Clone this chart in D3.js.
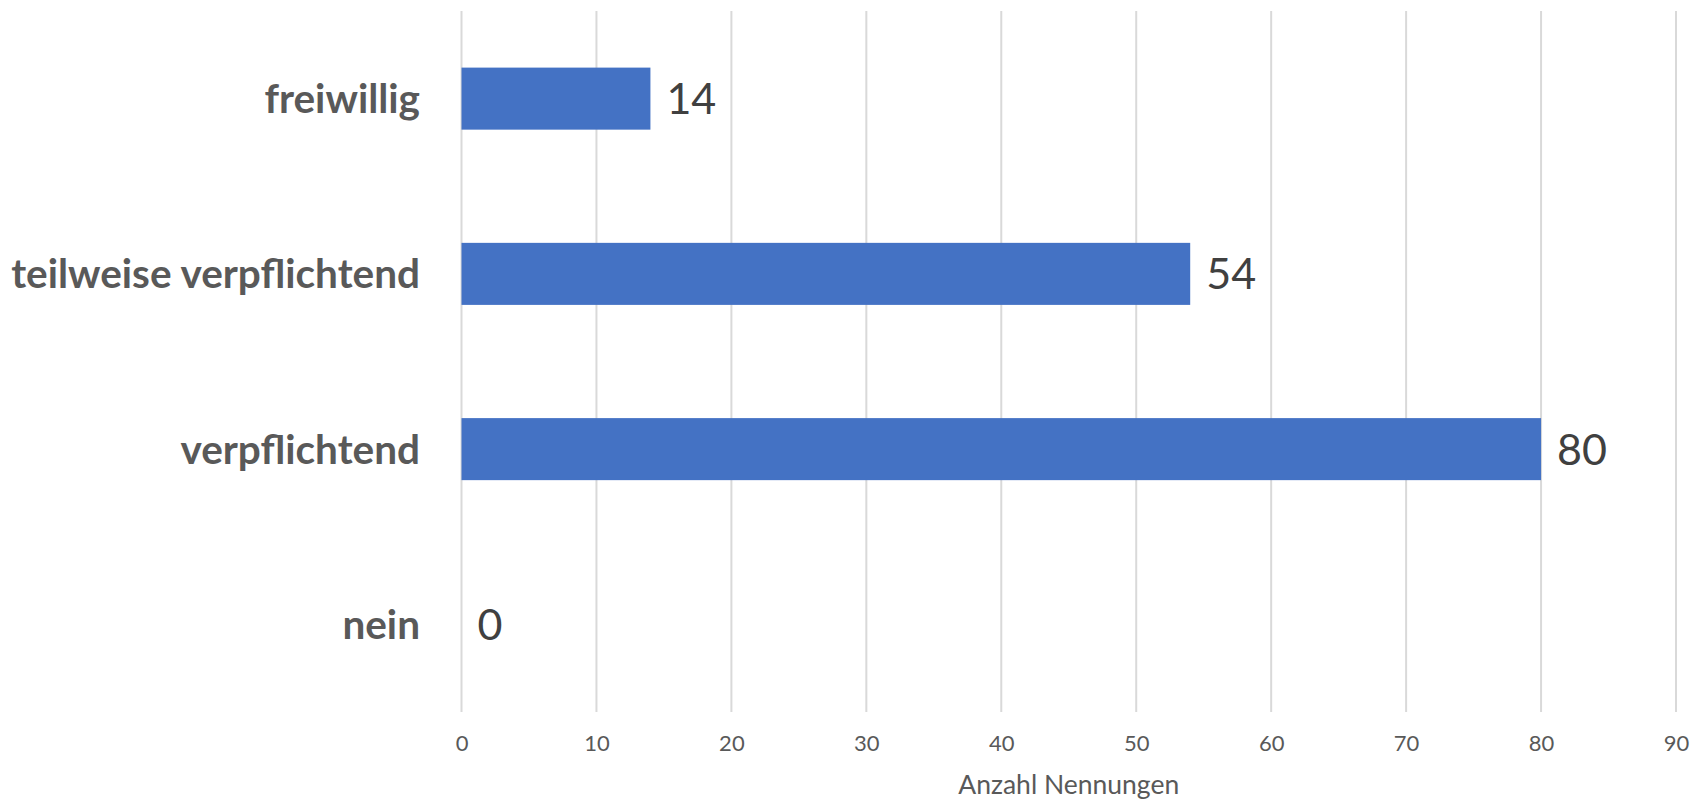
<!DOCTYPE html>
<html><head><meta charset="utf-8">
<script src="https://cdn.jsdelivr.net/npm/d3@7"></script>
<style>body{margin:0;background:#fff}svg{display:block}</style>
</head><body>
<svg id="c" width="1703" height="801"></svg>
<script>
const categories = ["freiwillig", "teilweise verpflichtend", "verpflichtend", "nein"];
const values = [14, 54, 80, 0];
const tickValues = [0, 10, 20, 30, 40, 50, 60, 70, 80, 90];
const axisTitle = "Anzahl Nennungen";

const svg = d3.select("#c");
const m = {left: 461.5, right: 1676, top: 11, bottom: 712};
const x = d3.scaleLinear().domain([0, 90]).range([m.left, m.right]);
const y = d3.scaleBand().domain(categories).range([m.top, m.bottom]).paddingInner(0.646).paddingOuter(0.323);

// gridlines
svg.append("g").selectAll("line").data(tickValues).join("line")
  .attr("x1", d => x(d)).attr("x2", d => x(d))
  .attr("y1", m.top).attr("y2", m.bottom)
  .attr("stroke", "#d9d9d9").attr("stroke-width", 2);

// tick labels via axis
const ax = svg.append("g").attr("transform", `translate(0,${m.bottom})`)
  .call(d3.axisBottom(x).tickValues(tickValues).tickSize(0).tickPadding(23).tickFormat(d3.format("d")));
ax.select(".domain").remove();
ax.selectAll("text").attr("font-family", "Lato, sans-serif").attr("font-size", 22).attr("fill", "#595959");

// bars
svg.append("g").selectAll("rect").data(categories).join("rect")
  .attr("x", x(0)).attr("y", d => y(d))
  .attr("width", (d, i) => x(values[i]) - x(0))
  .attr("height", y.bandwidth())
  .attr("fill", "#4472C4");

// value labels
svg.append("g").selectAll("text").data(categories).join("text")
  .attr("x", (d, i) => x(values[i]) + 16)
  .attr("y", d => y(d) + y.bandwidth() / 2)
  .attr("dy", "0.36em")
  .attr("font-family", "Lato, sans-serif").attr("font-size", 43).attr("fill", "#404040")
  .text((d, i) => values[i]);

// category labels
svg.append("g").selectAll("text").data(categories).join("text")
  .attr("x", 420)
  .attr("y", d => y(d) + y.bandwidth() / 2)
  .attr("dy", "0.36em")
  .attr("text-anchor", "end")
  .attr("font-family", "Lato, sans-serif").attr("font-weight", "bold").attr("font-size", 40.5).attr("fill", "#595959")
  .text(d => d);

// axis title
svg.append("text")
  .attr("x", (m.left + m.right) / 2).attr("y", 794)
  .attr("text-anchor", "middle")
  .attr("font-family", "Lato, sans-serif").attr("font-size", 26.5).attr("fill", "#595959")
  .text(axisTitle);
</script>
</body></html>
